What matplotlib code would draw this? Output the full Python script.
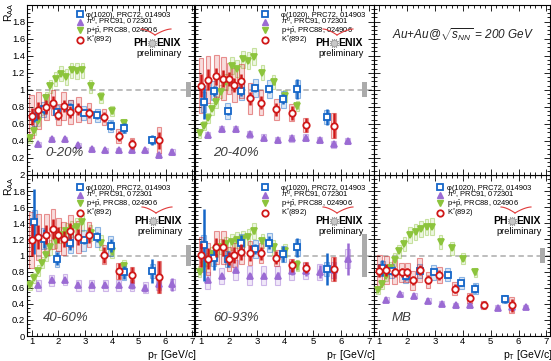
import numpy as np
import matplotlib.pyplot as plt
from matplotlib.lines import Line2D
from matplotlib.colors import to_rgba
from matplotlib.ticker import MultipleLocator, FuncFormatter

plt.rcParams['font.family'] = ['Liberation Sans', 'DejaVu Sans']
plt.rcParams['mathtext.fontset'] = 'custom'
plt.rcParams['mathtext.rm'] = 'Liberation Sans'
plt.rcParams['mathtext.it'] = 'Liberation Sans:italic'

# centralities, in drawing order
cent_labels = ["0-20%", "20-40%", "40-60%", "60-93%", "MB"]

# pT bin centres (GeV/c)
pt_phi = [1.1, 1.45, 1.95, 2.45, 2.95, 3.45, 3.95, 4.45, 5.5]
pt_kst = [1.0, 1.25, 1.55, 1.8, 2.0, 2.2, 2.45, 2.75, 3.15, 3.7, 4.25, 4.75, 5.75]
pt_pi0 = [1.25, 1.75, 2.25, 2.75, 3.25, 3.75, 4.25, 4.75, 5.25, 5.75, 6.25]
pt_ppb = [0.95, 1.1, 1.25, 1.4, 1.55, 1.7, 1.9, 2.1, 2.3, 2.5, 2.7, 2.9, 3.2, 3.6, 4.0, 4.45]

# phi(1020)
phi_raa = [
    [0.68, 0.77, 0.74, 0.79, 0.73, 0.70, 0.58, 0.55, 0.41],
    [0.86, 0.99, 0.75, 0.99, 1.02, 1.01, 0.89, 1.01, 0.68],
    [1.42, 1.21, 0.96, 1.15, 1.19, 1.23, 1.12, 0.79, 0.81],
    [1.13, 0.97, 0.96, 1.15, 1.08, 1.16, 1.02, 1.10, 0.83],
    [0.84, 0.81, 0.74, 0.81, 0.79, 0.76, 0.66, 0.59, 0.46],
]
phi_stat = [
    [0.06, 0.05, 0.05, 0.05, 0.04, 0.04, 0.05, 0.06, 0.06],
    [0.20, 0.06, 0.05, 0.06, 0.05, 0.05, 0.06, 0.12, 0.09],
    [0.40, 0.12, 0.08, 0.08, 0.05, 0.06, 0.08, 0.08, 0.15],
    [0.45, 0.15, 0.10, 0.10, 0.06, 0.08, 0.10, 0.12, 0.20],
    [0.10, 0.05, 0.04, 0.04, 0.03, 0.04, 0.04, 0.05, 0.05],
]
phi_sys = [
    [0.10, 0.09, 0.08, 0.09, 0.08, 0.08, 0.07, 0.06, 0.05],
    [0.12, 0.11, 0.09, 0.11, 0.11, 0.11, 0.10, 0.11, 0.08],
    [0.15, 0.13, 0.10, 0.12, 0.13, 0.13, 0.12, 0.09, 0.09],
    [0.12, 0.10, 0.10, 0.12, 0.11, 0.12, 0.10, 0.11, 0.09],
    [0.09, 0.09, 0.08, 0.09, 0.09, 0.08, 0.07, 0.07, 0.05],
]

# K*(892)
kst_raa = [
    [0.69, 0.76, 0.80, 0.85, 0.71, 0.81, 0.74, 0.77, 0.73, 0.68, 0.46, 0.36, 0.41],
    [1.05, 1.12, 1.16, 1.13, 1.13, 1.06, 1.10, 0.90, 0.85, 0.77, 0.73, 0.59, 0.58],
    [1.19, 1.23, 1.26, 1.33, 1.26, 1.21, 1.30, 1.23, 1.26, 1.01, 0.81, 0.76, 0.73],
    [1.01, 0.96, 1.10, 1.10, 0.96, 1.01, 1.04, 1.03, 1.03, 0.97, 0.88, 0.85, 0.83],
    [0.81, 0.82, 0.79, 0.79, 0.79, 0.69, 0.82, 0.70, 0.76, 0.59, 0.47, 0.39, 0.38],
]
kst_stat = [
    [0.10, 0.10, 0.08, 0.08, 0.07, 0.07, 0.07, 0.07, 0.06, 0.06, 0.06, 0.06, 0.10],
    [0.14, 0.12, 0.10, 0.10, 0.08, 0.08, 0.08, 0.08, 0.08, 0.08, 0.08, 0.08, 0.15],
    [0.20, 0.15, 0.12, 0.12, 0.10, 0.10, 0.10, 0.10, 0.10, 0.10, 0.10, 0.10, 0.20],
    [0.15, 0.13, 0.12, 0.10, 0.08, 0.10, 0.10, 0.10, 0.08, 0.08, 0.08, 0.07, 0.15],
    [0.08, 0.07, 0.06, 0.06, 0.06, 0.06, 0.06, 0.06, 0.06, 0.05, 0.05, 0.05, 0.08],
]
kst_sys = [
    [0.25, 0.22, 0.15, 0.15, 0.12, 0.17, 0.14, 0.15, 0.12, 0.09, 0.08, 0.07, 0.15],
    [0.32, 0.28, 0.25, 0.25, 0.18, 0.20, 0.20, 0.18, 0.15, 0.12, 0.10, 0.08, 0.15],
    [0.35, 0.28, 0.25, 0.25, 0.20, 0.20, 0.20, 0.20, 0.15, 0.12, 0.10, 0.10, 0.20],
    [0.22, 0.20, 0.20, 0.20, 0.15, 0.15, 0.15, 0.15, 0.12, 0.10, 0.08, 0.07, 0.15],
    [0.20, 0.18, 0.15, 0.12, 0.12, 0.12, 0.15, 0.10, 0.10, 0.08, 0.06, 0.05, 0.10],
]

# pi0
pi0_raa = [
    [0.36, 0.42, 0.42, 0.35, 0.30, 0.29, 0.29, 0.29, 0.29, 0.23, 0.27],
    [0.47, 0.54, 0.54, 0.48, 0.44, 0.41, 0.43, 0.44, 0.41, 0.36, 0.40],
    [0.63, 0.69, 0.70, 0.63, 0.63, 0.63, 0.63, 0.63, 0.60, 0.64, 0.64],
    [0.69, 0.75, 0.82, 0.75, 0.75, 0.75, 0.81, 0.81, 0.80, 0.82, 0.96],
    [0.45, 0.52, 0.50, 0.44, 0.40, 0.38, 0.38, 0.39, 0.35, 0.36, 0.36],
]
pi0_stat = [
    [0.01, 0.01, 0.01, 0.01, 0.01, 0.01, 0.01, 0.01, 0.02, 0.02, 0.03],
    [0.01, 0.01, 0.01, 0.01, 0.01, 0.01, 0.01, 0.02, 0.02, 0.03, 0.03],
    [0.01, 0.01, 0.01, 0.01, 0.02, 0.02, 0.03, 0.04, 0.05, 0.06, 0.08],
    [0.02, 0.02, 0.02, 0.03, 0.03, 0.04, 0.05, 0.06, 0.08, 0.10, 0.20],
    [0.01, 0.01, 0.01, 0.01, 0.01, 0.01, 0.01, 0.01, 0.02, 0.02, 0.03],
]
pi0_sys = [
    [0.03, 0.03, 0.03, 0.03, 0.03, 0.03, 0.03, 0.03, 0.03, 0.03, 0.03],
    [0.04, 0.04, 0.04, 0.04, 0.04, 0.04, 0.04, 0.04, 0.04, 0.04, 0.04],
    [0.07, 0.07, 0.07, 0.07, 0.07, 0.07, 0.07, 0.07, 0.07, 0.07, 0.07],
    [0.10, 0.10, 0.12, 0.12, 0.12, 0.12, 0.12, 0.10, 0.10, 0.10, 0.12],
    [0.03, 0.03, 0.03, 0.03, 0.03, 0.03, 0.03, 0.03, 0.03, 0.03, 0.03],
]

# p + pbar
ppb_raa = [
    [0.43, 0.52, 0.63, 0.76, 0.90, 1.04, 1.13, 1.19, 1.15, 1.23, 1.22, 1.23, 1.04, 0.91, 0.75, 0.61],
    [0.49, 0.58, 0.67, 0.77, 0.86, 0.98, 1.09, 1.28, 1.25, 1.36, 1.34, 1.39, 1.20, 1.09, 0.93, 0.81],
    [0.63, 0.72, 0.81, 0.91, 1.01, 1.10, 1.18, 1.25, 1.30, 1.33, 1.36, 1.42, 1.28, 1.16, 1.05, 0.87],
    [0.80, 0.88, 0.95, 1.02, 1.07, 1.11, 1.14, 1.17, 1.19, 1.21, 1.23, 1.30, 1.18, 1.10, 1.06, 0.88],
    [0.57, 0.64, 0.74, 0.85, 0.95, 1.05, 1.14, 1.25, 1.29, 1.33, 1.35, 1.36, 1.17, 1.09, 0.96, 0.79],
]
ppb_stat = [
    [0.01, 0.01, 0.01, 0.01, 0.01, 0.01, 0.01, 0.01, 0.01, 0.02, 0.02, 0.02, 0.02, 0.03, 0.03, 0.04],
    [0.01, 0.01, 0.01, 0.01, 0.01, 0.01, 0.01, 0.01, 0.01, 0.02, 0.02, 0.02, 0.02, 0.03, 0.03, 0.04],
    [0.01, 0.01, 0.01, 0.01, 0.01, 0.01, 0.01, 0.02, 0.02, 0.02, 0.02, 0.03, 0.03, 0.03, 0.04, 0.05],
    [0.02, 0.02, 0.02, 0.02, 0.02, 0.02, 0.02, 0.02, 0.03, 0.03, 0.03, 0.03, 0.04, 0.04, 0.05, 0.06],
    [0.01, 0.01, 0.01, 0.01, 0.01, 0.01, 0.01, 0.01, 0.01, 0.01, 0.02, 0.02, 0.02, 0.02, 0.03, 0.03],
]
ppb_sys = [
    [0.05, 0.05, 0.06, 0.06, 0.07, 0.08, 0.08, 0.09, 0.09, 0.09, 0.09, 0.09, 0.08, 0.07, 0.06, 0.05],
    [0.05, 0.05, 0.06, 0.07, 0.07, 0.08, 0.09, 0.10, 0.10, 0.10, 0.10, 0.10, 0.09, 0.08, 0.07, 0.06],
    [0.06, 0.06, 0.07, 0.07, 0.08, 0.09, 0.09, 0.10, 0.10, 0.10, 0.10, 0.11, 0.10, 0.09, 0.08, 0.07],
    [0.07, 0.07, 0.08, 0.08, 0.09, 0.09, 0.09, 0.10, 0.10, 0.10, 0.10, 0.10, 0.09, 0.09, 0.08, 0.07],
    [0.05, 0.05, 0.06, 0.07, 0.08, 0.08, 0.09, 0.10, 0.10, 0.10, 0.10, 0.10, 0.09, 0.08, 0.07, 0.06],
]

# global normalisation uncertainty, drawn as grey box at R_AA = 1
norm_unc = [0.09, 0.09, 0.13, 0.27, 0.09]

legend_labels = [u"\u03c6(1020), PRC72, 014903", r"$\pi^{0}$, PRC91, 072301",
                 r"p+$\bar{\rm p}$, PRC88, 024906", r"K$^{*}$(892)"]

c_phi = '#1566c8'
c_pi0 = '#9b6bd3'
c_ppb = '#8cc43c'
c_kst = '#d01818'

W, H = 551, 361
fig = plt.figure(figsize=(W / 100, H / 100), dpi=100)


def fx(px):
    return px / W


def fy(py):
    return 1 - py / H


def panel(l, t, r, b):
    return fig.add_axes([fx(l), fy(b), (r - l) / W, (b - t) / H])


cols = [(27, 194.5), (194.5, 373.5), (373.5, 550)]
rows = [(4.6, 175), (175, 336)]
xlims = [(0.83, 7.08), (0.77, 7.17), (0.79, 7.13)]

# (row, col) for each centrality; top-right holds the collision label
slots = [(0, 0), (0, 1), (1, 0), (1, 1), (1, 2)]


def style_axes(ax, row, col):
    ax.set_xlim(*xlims[col])
    ax.set_ylim(0, 2)
    ax.xaxis.set_major_locator(MultipleLocator(1))
    ax.xaxis.set_minor_locator(MultipleLocator(0.2))
    ax.yaxis.set_major_locator(MultipleLocator(0.2))
    ax.yaxis.set_minor_locator(MultipleLocator(0.05))
    ax.tick_params(which='both', direction='in', top=True, right=True,
                   width=0.6, labelsize=6.8, pad=1.5)
    ax.tick_params(which='major', length=4.5)
    ax.tick_params(which='minor', length=2.2)
    ax.tick_params(labelbottom=(row == 1), labelleft=(col == 0))
    ax.tick_params(axis='x', pad=1.0)
    ax.xaxis.set_major_formatter(FuncFormatter(lambda v, p: '%g' % v))
    if row == 0:
        ax.yaxis.set_major_formatter(FuncFormatter(
            lambda v, p: '' if (v < 0.01 or v > 1.99) else '%g' % round(v, 2)))
    else:
        ax.yaxis.set_major_formatter(FuncFormatter(lambda v, p: '%g' % round(v, 2)))
    for s in ax.spines.values():
        s.set_linewidth(0.8)


def draw_species(ax, pt, val, stat, sys, color, marker, hollow, width, z):
    val = np.array(val)
    sys = np.array(sys)
    ax.bar(pt, 2 * sys, bottom=val - sys, width=width,
           facecolor=to_rgba(color, 0.15), edgecolor=to_rgba(color, 0.45),
           linewidth=0.8, zorder=3)
    ax.errorbar(pt, val, yerr=stat, fmt='none', ecolor=color,
                elinewidth=1.8, capsize=0, zorder=z)
    ax.plot(pt, val, ls='none', marker=marker, ms=4.6, mec=color,
            mfc='white' if hollow else color, mew=1.3, zorder=z + 0.1)


def draw_logo(cx, cy):
    # red swoosh above the name, a shallow V
    t = np.linspace(0, 1, 20)
    lx = cx - 11 + 14 * t
    ly = cy - 14 + 6 * t ** 1.6
    rx = cx + 3 + 16 * (1 - t)
    ry = cy - 14 + 6 * t ** 1.6
    fig.add_artist(Line2D(fx(lx), fy(ly), color='#e03a3a', lw=0.8))
    fig.add_artist(Line2D(fx(rx), fy(ry), color='#e03a3a', lw=0.8))
    fig.text(fx(cx - 4.5), fy(cy), 'PH', ha='right', va='center',
             fontsize=7.5, fontweight='bold')
    fig.text(fx(cx + 4.5), fy(cy), 'ENIX', ha='left', va='center',
             fontsize=7.5, fontweight='bold')
    fig.add_artist(Line2D([fx(cx)], [fy(cy)], marker=(12, 2, 0), ms=6.5,
                          color='#a0a0a0', mew=0.8))
    fig.add_artist(Line2D([fx(cx)], [fy(cy)], marker='o', ms=3,
                          mfc='#c8c8c8', mec='#c8c8c8'))
    fig.text(fx(cx + 7), fy(cy + 10), 'preliminary', ha='center', va='center',
             fontsize=6.6)


handles = [
    Line2D([], [], ls='none', marker='s', ms=4.6, mec=c_phi, mfc='white', mew=1.3),
    Line2D([], [], ls='none', marker='^', ms=4.6, mec=c_pi0, mfc=c_pi0),
    Line2D([], [], ls='none', marker='v', ms=4.6, mec=c_ppb, mfc=c_ppb),
    Line2D([], [], ls='none', marker='o', ms=4.6, mec=c_kst, mfc='white', mew=1.3),
]
# legend anchor (handle left px, top px, text pad) per centrality
legend_pos = [(76, 11.5, 0.4), (261, 11.5, 1.7), (76, 184.5, 0.4), (261, 184.5, 1.7), (436, 184.5, 0.5)]
logo_pos = [(152, 43), (334, 43), (153, 221), (334, 221), (512, 221)]
cent_pos = [(45, 153), (213, 153), (43, 318), (213, 318), (392, 318)]

for i, (row, col) in enumerate(slots):
    l, r = cols[col]
    t, b = rows[row]
    ax = panel(l, t, r, b)
    style_axes(ax, row, col)

    ax.axhline(1, color='#b8b8b8', ls=(0, (3, 2)), lw=1.3, zorder=1)
    ax.bar(6.85, 2 * norm_unc[i], bottom=1 - norm_unc[i], width=0.18,
           color='#ababab', zorder=2)

    draw_species(ax, pt_ppb, ppb_raa[i], ppb_stat[i], ppb_sys[i], c_ppb, 'v', False, 0.13, 5)
    draw_species(ax, pt_pi0, pi0_raa[i], pi0_stat[i], pi0_sys[i], c_pi0, '^', False, 0.18, 5)
    draw_species(ax, pt_phi, phi_raa[i], phi_stat[i], phi_sys[i], c_phi, 's', True, 0.18, 6)
    draw_species(ax, pt_kst, kst_raa[i], kst_stat[i], kst_sys[i], c_kst, 'o', True, 0.17, 7)

    hx, hy, pad = legend_pos[i]
    ax.legend(handles, legend_labels, loc='upper left',
              bbox_to_anchor=(fx(hx), fy(hy)), bbox_transform=fig.transFigure,
              frameon=False, fontsize=5.4, handlelength=1.0, handletextpad=pad,
              labelspacing=-0.38, borderpad=0, borderaxespad=0)

    draw_logo(*logo_pos[i])
    cx, cy = cent_pos[i]
    fig.text(fx(cx), fy(cy), cent_labels[i], ha='left', va='center',
             fontsize=9.5, style='italic', color='#3c3c3c')

# top-right panel: only the collision system
ax_info = panel(cols[2][0], rows[0][0], cols[2][1], rows[0][1])
style_axes(ax_info, 0, 2)
fig.text(fx(392), fy(35), r"Au+Au@$\sqrt{s_{NN}}$ = 200 GeV", ha='left', va='center',
         fontsize=8.5, style='italic', color='#222222')

# axis titles
for t in (3, 177):
    fig.text(fx(2), fy(t), r"R$_{\rm AA}$", rotation=90, ha='left', va='top', fontsize=7.5)
for l, r in cols:
    fig.text(fx(r + 2), fy(354.5), r"p$_{\rm T}$ [GeV/c]", ha='right', va='center', fontsize=7.5)

plt.savefig('out.png', dpi=100)
